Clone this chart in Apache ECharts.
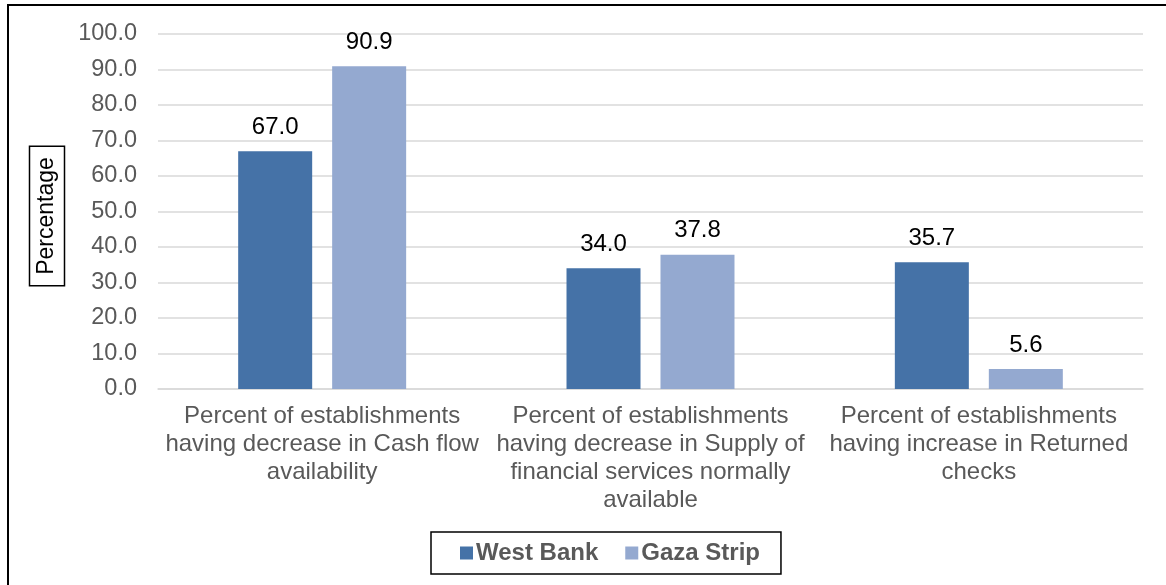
<!DOCTYPE html>
<html>
<head>
<meta charset="utf-8">
<script src="https://cdn.jsdelivr.net/npm/echarts@6/dist/echarts.min.js"></script>
<style>
html,body{margin:0;padding:0;background:#fff;}
#chart{width:1166px;height:585px;}
</style>
</head>
<body>
<div id="chart"></div>
<script>
const categories = [
  "Percent of establishments\nhaving decrease in Cash flow\navailability",
  "Percent of establishments\nhaving decrease in Supply of\nfinancial services normally\navailable",
  "Percent of establishments\nhaving increase in Returned\nchecks"
];
const westBank = [67.0, 34.0, 35.7];
const gazaStrip = [90.9, 37.8, 5.6];
const seriesNames = ["West Bank", "Gaza Strip"];
const yTicks = { min: 0, max: 100, interval: 10 };
const yAxisTitle = 'Percentage';

const FONT = '"Liberation Sans", Arial, sans-serif';
const chart = echarts.init(document.getElementById('chart'));
const labelCfg = {
  show: true, position: 'top', distance: 12,
  color: '#000', fontSize: 24, fontFamily: FONT,
  formatter: p => p.value.toFixed(1)
};
chart.setOption({
  animation: false,
  textStyle: { fontFamily: FONT },
  graphic: [{
    type: 'rect', shape: { x: 8, y: 5, width: 1300, height: 800 },
    style: { fill: 'none', stroke: '#000', lineWidth: 2 }, silent: true
  }, {
    type: 'text', x: 47, y: 216, rotation: Math.PI / 2,
    style: {
      text: yAxisTitle, fill: '#000', fontSize: 23, fontFamily: FONT,
      align: 'center', verticalAlign: 'middle',
      borderColor: '#000', borderWidth: 1.5, padding: [6, 11, 6, 11]
    }, silent: true
  }],
  grid: { left: 158, right: 23, top: 34, bottom: 196, containLabel: false },
  legend: {
    data: seriesNames,
    left: 431, top: 532,
    padding: [9, 21, 9, 29],
    itemGap: 27,
    itemWidth: 13, itemHeight: 13,
    borderColor: '#000', borderWidth: 1.5,
    icon: 'rect',
    textStyle: { fontSize: 24, fontWeight: 'bold', color: '#595959', fontFamily: FONT, padding: [0, 0, 0, -2] }
  },
  xAxis: {
    type: 'category',
    data: categories,
    axisLine: { lineStyle: { color: '#d9d9d9', width: 1.5 } },
    axisTick: { show: false },
    axisLabel: { color: '#595959', fontSize: 24, lineHeight: 28, margin: 13, fontFamily: FONT, interval: 0 }
  },
  yAxis: {
    type: 'value',
    min: yTicks.min, max: yTicks.max, interval: yTicks.interval,
    axisLine: { show: false },
    axisTick: { show: false },
    splitLine: { lineStyle: { color: '#d9d9d9', width: 1.5 } },
    axisLabel: {
      color: '#595959', fontSize: 23.5, margin: 21, fontFamily: FONT,
      formatter: v => v.toFixed(1)
    }
  },
  series: [
    { name: seriesNames[0], type: 'bar', data: westBank, barWidth: 74, barGap: '27%',
      itemStyle: { color: '#4572A7' }, label: labelCfg },
    { name: seriesNames[1], type: 'bar', data: gazaStrip, barWidth: 74, barGap: '27%',
      itemStyle: { color: '#94A9D0' }, label: labelCfg }
  ]
});
</script>
</body>
</html>
